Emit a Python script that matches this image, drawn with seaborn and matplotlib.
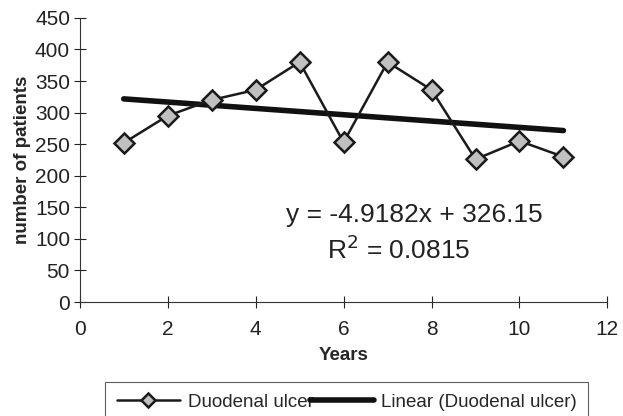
import numpy as np
import pandas as pd
import matplotlib
matplotlib.use("Agg")
import matplotlib.pyplot as plt
import seaborn as sns

years = [1, 2, 3, 4, 5, 6, 7, 8, 9, 10, 11]
patients = [252, 295, 320, 336, 380, 253, 380, 336, 226, 255, 230]
series_name = "Duodenal ulcer"
trend_name = "Linear (Duodenal ulcer)"
equation = "y = -4.9182x + 326.15"
r_squared = "R$^2$ = 0.0815"

df = pd.DataFrame({"Years": years, "patients": patients})
slope, intercept = np.polyfit(years, patients, 1)
df["trend"] = slope * df["Years"] + intercept

sns.set_style("white")
plt.rcParams["font.family"] = ["Liberation Sans", "DejaVu Sans"]

fig = plt.figure(figsize=(6.23, 4.16), dpi=100)
ax = fig.add_axes([0.128, 0.274, 0.847, 0.683])

sns.lineplot(data=df, x="Years", y="patients", ax=ax, color="#1a1a1a", linewidth=1.8,
             marker="D", markersize=10, markerfacecolor="#c0c0c0",
             markeredgecolor="#1a1a1a", markeredgewidth=1.8, label=series_name, zorder=3)
sns.lineplot(data=df, x="Years", y="trend", ax=ax, color="#111111", linewidth=4,
             label=trend_name, zorder=2)

ax.set_xlim(0, 12)
ax.set_ylim(0, 450)
ax.set_xticks(range(0, 13, 2))
ax.set_yticks(range(0, 451, 50))
ax.tick_params(bottom=True, left=True, direction="inout", length=8, width=0.8,
               labelsize=15, colors="#222222")
ax.tick_params(axis="x", pad=9)
ax.tick_params(axis="y", pad=3)
for s in ["top", "right"]:
    ax.spines[s].set_visible(False)
for s in ["left", "bottom"]:
    ax.spines[s].set_color("#333333")
    ax.spines[s].set_linewidth(0.8)

ax.set_xlabel("Years", fontsize=13.5, fontweight="bold", labelpad=6)
ax.set_ylabel("number of patients", fontsize=13.5, fontweight="bold", labelpad=3)

ax.text(7.6, 138, equation, fontsize=19, ha="center", va="center", color="#222222")
ax.text(7.25, 83, r_squared, fontsize=19, ha="center", va="center", color="#222222")

leg = ax.legend(loc="upper center", bbox_to_anchor=(0.506, -0.25), ncol=2, fontsize=13.5,
                frameon=True, fancybox=False, edgecolor="#333333", handlelength=3.4,
                columnspacing=-0.2, borderpad=0.6, handletextpad=0.4, markerscale=0.7)
leg.get_frame().set_linewidth(0.8)

fig.savefig("out.png", dpi=100)
